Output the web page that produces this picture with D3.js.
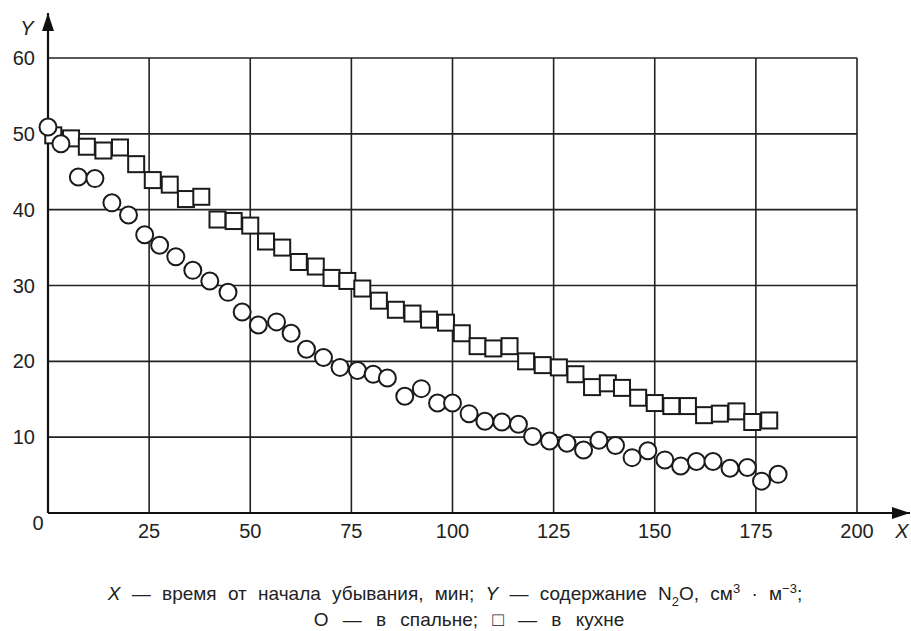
<!DOCTYPE html>
<html>
<head>
<meta charset="utf-8">
<script src="https://cdn.jsdelivr.net/npm/d3@7"></script>
<style>
  body { margin: 0; background: #fff; }
  text { font-family: "Liberation Sans", Arial, sans-serif; fill: #222; }
</style>
</head>
<body>
<div id="plot"></div>
<script>
"use strict";

// в спальне (circles)
const bedroomX = [0, 3.2, 7.5, 11.6, 15.8, 19.9, 23.9, 27.6, 31.6, 35.8, 40, 44.5, 48, 52, 56.5, 60.1, 63.9, 68.1, 72.2, 76.5, 80.4, 83.9, 88.2, 92.3, 96.3, 100, 104.1, 108, 112.2, 116.3, 119.8, 124, 128.3, 132.4, 136.2, 140.3, 144.4, 148.3, 152.5, 156.4, 160.3, 164.4, 168.6, 172.9, 176.4, 180.5];
const bedroomY = [50.9, 48.7, 44.3, 44.1, 40.9, 39.3, 36.7, 35.3, 33.8, 32.0, 30.6, 29.1, 26.5, 24.8, 25.2, 23.7, 21.6, 20.5, 19.2, 18.8, 18.3, 17.8, 15.4, 16.4, 14.5, 14.5, 13.1, 12.1, 12.0, 11.7, 10.1, 9.5, 9.2, 8.3, 9.6, 8.9, 7.3, 8.2, 7.0, 6.2, 6.8, 6.8, 5.9, 6.0, 4.2, 5.1];

// в кухне (squares)
const kitchenX = [1.3, 5.7, 9.6, 13.7, 17.8, 21.8, 25.9, 30.1, 34.1, 37.9, 41.9, 45.9, 50, 53.9, 57.9, 62, 66.2, 70.1, 74, 77.7, 81.8, 86, 90.1, 94.2, 98.4, 102.3, 106.2, 110.1, 114.1, 118.2, 122.3, 126.3, 130.4, 134.5, 138.4, 141.9, 145.9, 150, 154.1, 158.2, 162.2, 166.1, 170.2, 174.1, 178.3];
const kitchenY = [49.8, 49.4, 48.3, 47.8, 48.2, 46.0, 43.9, 43.3, 41.4, 41.7, 38.7, 38.5, 37.9, 35.8, 35.0, 33.1, 32.5, 31.0, 30.6, 29.6, 28.0, 26.8, 26.3, 25.5, 25.1, 23.7, 22.0, 21.7, 22.0, 20.0, 19.5, 19.2, 18.3, 16.6, 17.1, 16.5, 15.2, 14.5, 14.1, 14.1, 12.9, 13.1, 13.4, 12.0, 12.2];

const xTicks = [25, 50, 75, 100, 125, 150, 175, 200];
const yTicks = [10, 20, 30, 40, 50, 60];

const msm = {
    width: 911,
    height: 631,
    left: 48,
    right: 857,
    top: 58,
    bottom: 513
};

const svg = d3.select("#plot")
    .append("svg")
    .attr("width", msm.width)
    .attr("height", msm.height);

const xScale = d3.scaleLinear().domain([0, 200]).range([msm.left, msm.right]);
const yScale = d3.scaleLinear().domain([0, 60]).range([msm.bottom, msm.top]);

// grid
svg.append("g")
    .selectAll("line")
    .data(xTicks)
    .enter()
    .append("line")
    .attr("x1", d => xScale(d)).attr("x2", d => xScale(d))
    .attr("y1", yScale(60)).attr("y2", yScale(0))
    .attr("stroke", "#222").attr("stroke-width", 1.6);

svg.append("g")
    .selectAll("line")
    .data(yTicks)
    .enter()
    .append("line")
    .attr("x1", xScale(0)).attr("x2", xScale(200))
    .attr("y1", d => yScale(d)).attr("y2", d => yScale(d))
    .attr("stroke", "#222").attr("stroke-width", 1.6);

// axes with arrows
svg.append("defs").append("marker")
    .attr("id", "arrow")
    .attr("viewBox", "0 0 18 12")
    .attr("refX", 18).attr("refY", 6)
    .attr("markerWidth", 18).attr("markerHeight", 12)
    .attr("markerUnits", "userSpaceOnUse")
    .attr("orient", "auto")
    .append("path")
    .attr("d", "M0,0 L18,6 L0,12 Z")
    .attr("fill", "#111");

svg.append("line")
    .attr("x1", xScale(0)).attr("y1", yScale(0))
    .attr("x2", 910).attr("y2", yScale(0))
    .attr("stroke", "#111").attr("stroke-width", 2.2)
    .attr("marker-end", "url(#arrow)");

svg.append("line")
    .attr("x1", xScale(0)).attr("y1", yScale(0))
    .attr("x2", xScale(0)).attr("y2", 13)
    .attr("stroke", "#111").attr("stroke-width", 2.2)
    .attr("marker-end", "url(#arrow)");

// tick labels
svg.append("g")
    .selectAll("text")
    .data(xTicks)
    .enter()
    .append("text")
    .attr("x", d => xScale(d))
    .attr("y", 538)
    .attr("text-anchor", "middle")
    .style("font-size", "20px")
    .text(d => d);

svg.append("g")
    .selectAll("text")
    .data(yTicks)
    .enter()
    .append("text")
    .attr("x", 35)
    .attr("y", d => yScale(d) + 7)
    .attr("text-anchor", "end")
    .style("font-size", "20px")
    .text(d => d);

svg.append("text").attr("x", 38).attr("y", 530)
    .attr("text-anchor", "middle").style("font-size", "20px").text("0");

svg.append("text").attr("x", 902).attr("y", 538)
    .attr("text-anchor", "middle").style("font-size", "20px").style("font-style", "italic").text("X");

svg.append("text").attr("x", 27).attr("y", 35)
    .attr("text-anchor", "middle").style("font-size", "20px").style("font-style", "italic").text("Y");

// data marks
const kitchen = kitchenX.map((x, i) => ({ x: x, y: kitchenY[i] }));
const bedroom = bedroomX.map((x, i) => ({ x: x, y: bedroomY[i] }));
const sq = 16;

svg.append("g")
    .selectAll("rect")
    .data(kitchen)
    .enter()
    .append("rect")
    .attr("x", d => xScale(d.x) - sq / 2)
    .attr("y", d => yScale(d.y) - sq / 2)
    .attr("width", sq).attr("height", sq)
    .attr("fill", "#fff")
    .attr("stroke", "#1a1a1a").attr("stroke-width", 2);

svg.append("g")
    .selectAll("circle")
    .data(bedroom)
    .enter()
    .append("circle")
    .attr("cx", d => xScale(d.x))
    .attr("cy", d => yScale(d.y))
    .attr("r", 8.5)
    .attr("fill", "#fff")
    .attr("stroke", "#1a1a1a").attr("stroke-width", 2);

// caption
const cap1 = svg.append("text")
    .attr("x", 455).attr("y", 600)
    .attr("text-anchor", "middle")
    .style("font-size", "19px")
    .style("word-spacing", "6px");
cap1.append("tspan").style("font-style", "italic").text("X");
cap1.append("tspan").text(" — время от начала убывания, мин; ");
cap1.append("tspan").style("font-style", "italic").text("Y");
cap1.append("tspan").text(" — содержание N");
cap1.append("tspan").attr("dy", 6).style("font-size", "13px").text("2");
cap1.append("tspan").attr("dy", -6).text("O, см");
cap1.append("tspan").attr("dy", -7).style("font-size", "13px").text("3");
cap1.append("tspan").attr("dy", 7).text(" · м");
cap1.append("tspan").attr("dy", -7).style("font-size", "13px").text("−3");
cap1.append("tspan").attr("dy", 7).text(";");

svg.append("text")
    .attr("x", 469).attr("y", 626)
    .attr("text-anchor", "middle")
    .style("font-size", "19px")
    .style("word-spacing", "9px")
    .text("О — в спальне; □ — в кухне");
</script>
</body>
</html>
